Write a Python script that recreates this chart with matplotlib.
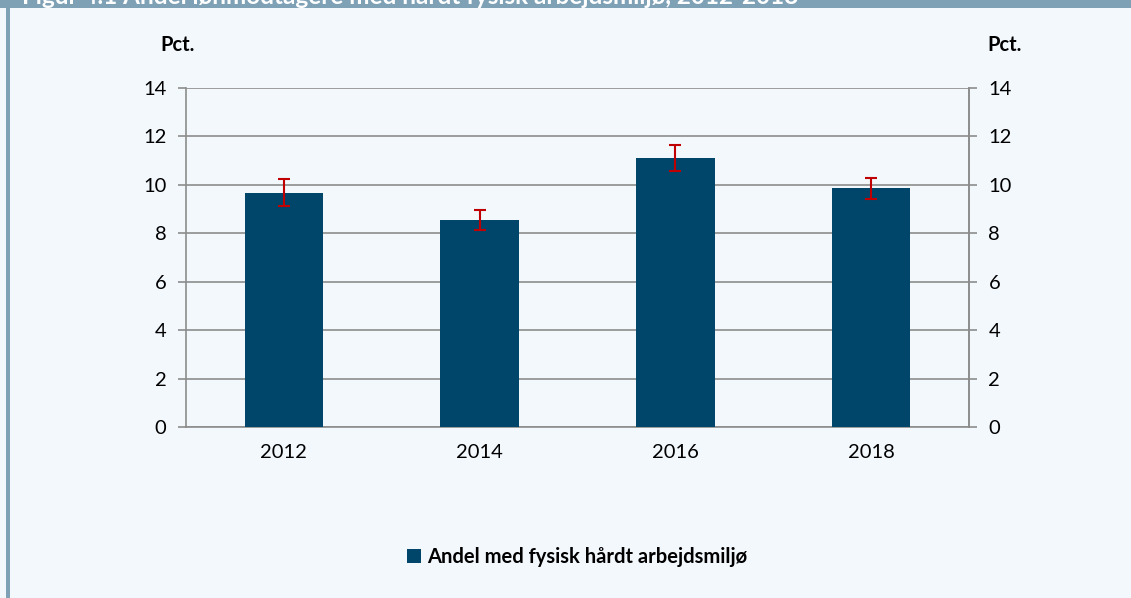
import matplotlib
matplotlib.use("Agg")
import matplotlib.pyplot as plt
from matplotlib.patches import Rectangle

# Data
years = ["2012", "2014", "2016", "2018"]
share = [9.68, 8.55, 11.1, 9.86]
err = [0.57, 0.41, 0.54, 0.43]
yticks = [0, 2, 4, 6, 8, 10, 12, 14]

title = "Figur 4.1 Andel lønmodtagere med hårdt fysisk arbejdsmiljø, 2012-2018"
legend_label = "Andel med fysisk hårdt arbejdsmiljø"

plt.rcParams["font.family"] = ["Lato", "DejaVu Sans"]

BG = "#f3f8fd"
FRAME = "#7fa1b6"
BAR = "#00466b"
GRID = "#8c8c8c"
ERR = "#c00000"
FS = 14.5

W, H = 1131, 598
fig = plt.figure(figsize=(W / 100, H / 100), dpi=100)
fig.patch.set_facecolor(BG)

# header band and left stripe of the figure box
fig.patches.append(Rectangle((0, 1 - 8 / H), 1, 8 / H, transform=fig.transFigure,
                             facecolor=FRAME, edgecolor="none", zorder=0))
fig.patches.append(Rectangle((6 / W, 0), 4 / W, 1, transform=fig.transFigure,
                             facecolor=FRAME, edgecolor="none", zorder=0))
# title sits mostly above the visible area (cut off in the original)
fig.text(22 / W, 1 - 4 / H, title, color="white", fontsize=17.5, fontweight="bold",
         va="baseline", ha="left")

ax = fig.add_axes([186 / W, 1 - 427 / H, (969 - 186) / W, (427 - 88) / H])
ax.set_facecolor(BG)

x = list(range(len(years)))
bars = ax.bar(x, share, width=0.4, color=BAR, zorder=3, label=legend_label)
ax.errorbar(x, share, yerr=err, fmt="none", ecolor=ERR, elinewidth=1.5,
            capsize=4.5, capthick=1.5, zorder=4)

ax.set_xlim(-0.5, 3.5)
ax.set_ylim(0, 14)
ax.set_xticks(x)
ax.set_xticklabels(years)
ax.set_yticks(yticks)
ax.yaxis.grid(True, color=GRID, linewidth=1.2, zorder=0)
ax.set_axisbelow(True)

ax.spines["top"].set_visible(False)
for s in ["left", "right", "bottom"]:
    ax.spines[s].set_color(GRID)
    ax.spines[s].set_linewidth(1.2)

ax.tick_params(axis="y", direction="out", length=6, width=1.2, color=GRID,
               labelsize=FS, pad=8)
ax.tick_params(axis="x", length=0, labelsize=FS, pad=12)

ax2 = ax.twinx()
ax2.set_ylim(0, 14)
ax2.set_yticks(yticks)
ax2.tick_params(axis="y", direction="out", length=6, width=1.2, color=GRID,
                labelsize=FS, pad=8)
for s in ["top", "left", "bottom"]:
    ax2.spines[s].set_visible(False)
ax2.spines["right"].set_color(GRID)
ax2.spines["right"].set_linewidth(1.2)

fig.text(178 / W, 1 - 45 / H, "Pct.", fontsize=FS, fontweight="bold",
         ha="center", va="center")
fig.text(1005 / W, 1 - 45 / H, "Pct.", fontsize=FS, fontweight="bold",
         ha="center", va="center")

fig.legend(handles=[bars], labels=[legend_label], loc="center",
           bbox_to_anchor=(577 / W, 1 - 557 / H), frameon=False,
           handlelength=0.7, handleheight=0.7, handletextpad=0.3,
           prop={"weight": "bold", "size": FS})

fig.savefig("out.png", dpi=100, facecolor=BG)
